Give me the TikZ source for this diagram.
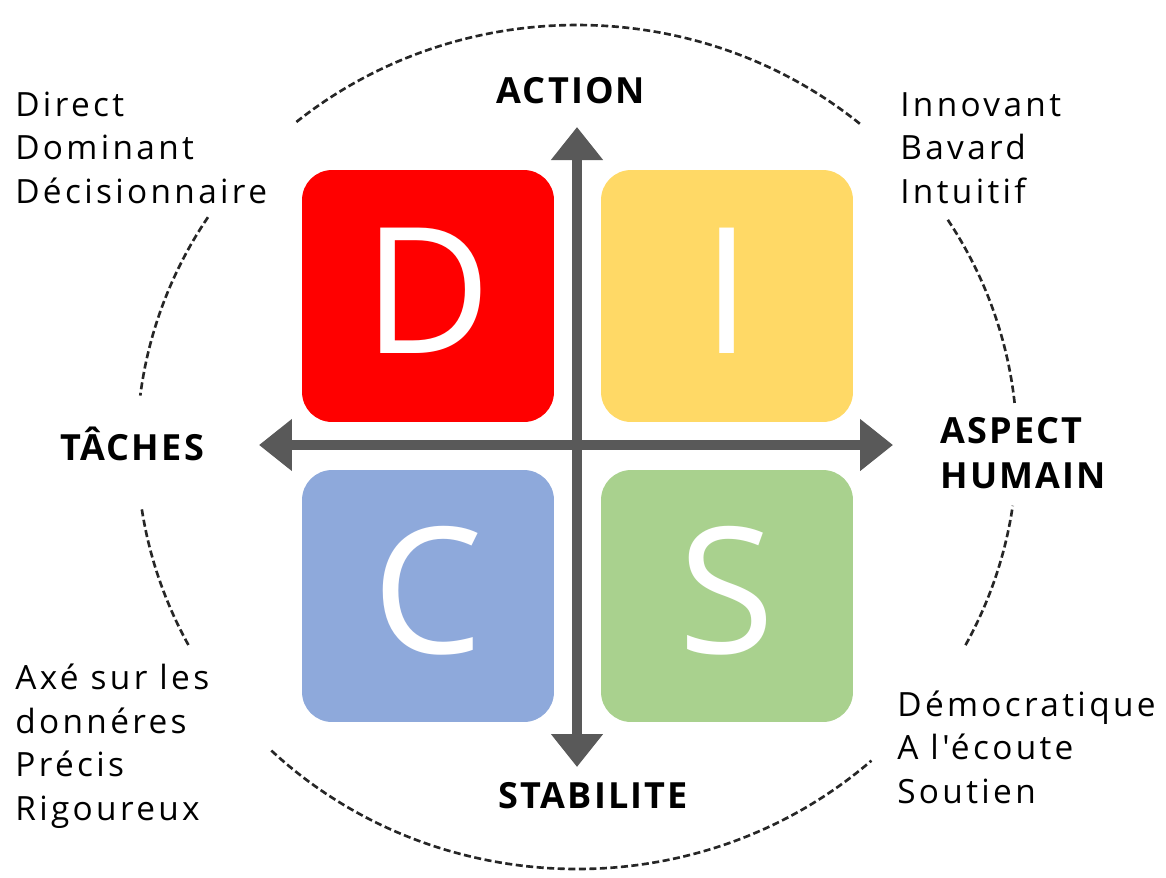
\documentclass[tikz,border=0pt]{standalone}
\usepackage{fontspec}
\usepackage{xcolor}
\usetikzlibrary{arrows.meta,positioning}

\newfontfamily\tagfont{Open Sans}[LetterSpace=10,Ligatures=TeXOff]
\newfontfamily\headfont{Open Sans}[LetterSpace=6]
\newfontfamily\letterfont{Open Sans}

\definecolor{discred}{HTML}{FF0000}
\definecolor{discyellow}{HTML}{FFD966}
\definecolor{discblue}{HTML}{8EA9DB}
\definecolor{discgreen}{HTML}{A9D18E}
\definecolor{axisgray}{HTML}{595959}
\definecolor{ringgray}{HTML}{262626}

\begin{document}
\begin{tikzpicture}[x=0.02cm, y=-0.02cm,
    quad/.style={rounded corners=0.6cm, minimum size=5.04cm, inner sep=0pt,
        text=white, text height=2.5cm, text depth=0.2cm,
        font=\letterfont\fontsize{100}{100}\selectfont},
    axis/.style={draw=axisgray, line width=6.2pt,
        {Triangle[length=0.66cm,width=1.0cm]}-{Triangle[length=0.66cm,width=1.0cm]}},
    ring/.style={draw=ringgray, line width=1.5pt, dash pattern=on 4pt off 2pt},
    head/.style={inner sep=0pt, align=left, font=\headfont\bfseries\fontsize{20.5}{25.5}\selectfont},
    tags/.style={inner sep=0pt, align=left, font=\tagfont\fontsize{19}{24.7}\selectfont}]
    \useasboundingbox (0,0) rectangle (1166,877);

    % dashed ring, broken where the labels sit
    \foreach \from/\to in {50/130, 147/173, 188.5/208, 226/312, 332/352, 6/33}
        \draw[ring] (577,447) ++(-\from:440 and 422)
            arc[start angle=-\from, end angle=-\to, x radius=440, y radius=422];

    % the four quadrants
    \node[quad, fill=discred]    (qD) at (428,296) {D};
    \node[quad, fill=discyellow] (qI) at (727,296) {I};
    \node[quad, fill=discblue]   (qC) at (428,596) {C};
    \node[quad, fill=discgreen]  (qS) at (727,596) {S};

    % axes
    \coordinate (up)    at (577,127);
    \coordinate (down)  at (577,767);
    \coordinate (left)  at (259,445);
    \coordinate (right) at (893,445);
    \draw[axis] (down) -- (up);
    \draw[axis] (left) -- (right);

    % axis names (base = last line)
    \node[head, anchor=base] (action) at (571,103) {ACTION};
    \node[head, anchor=base] (stab)   at (593,808) {STABILITE};
    \node[head, anchor=base] (taches) at (132,460) {TÂCHES};
    \node[head, anchor=base west] (human) at (940,488) {ASPECT\\HUMAIN};

    % traits in the corners
    \node[tags, anchor=base west] (tD) at (15,203) {Direct\\Dominant\\Décisionnaire};
    \node[tags, anchor=base west] (tI) at (900,203) {Innovant\\Bavard\\Intuitif};
    \node[tags, anchor=base west] (tC) at (15,820) {Axé sur les\\donnéres\\Précis\\Rigoureux};
    \node[tags, anchor=base west] (tS) at (897,803) {Démocratique\\A l'écoute\\Soutien};
\end{tikzpicture}
\end{document}
